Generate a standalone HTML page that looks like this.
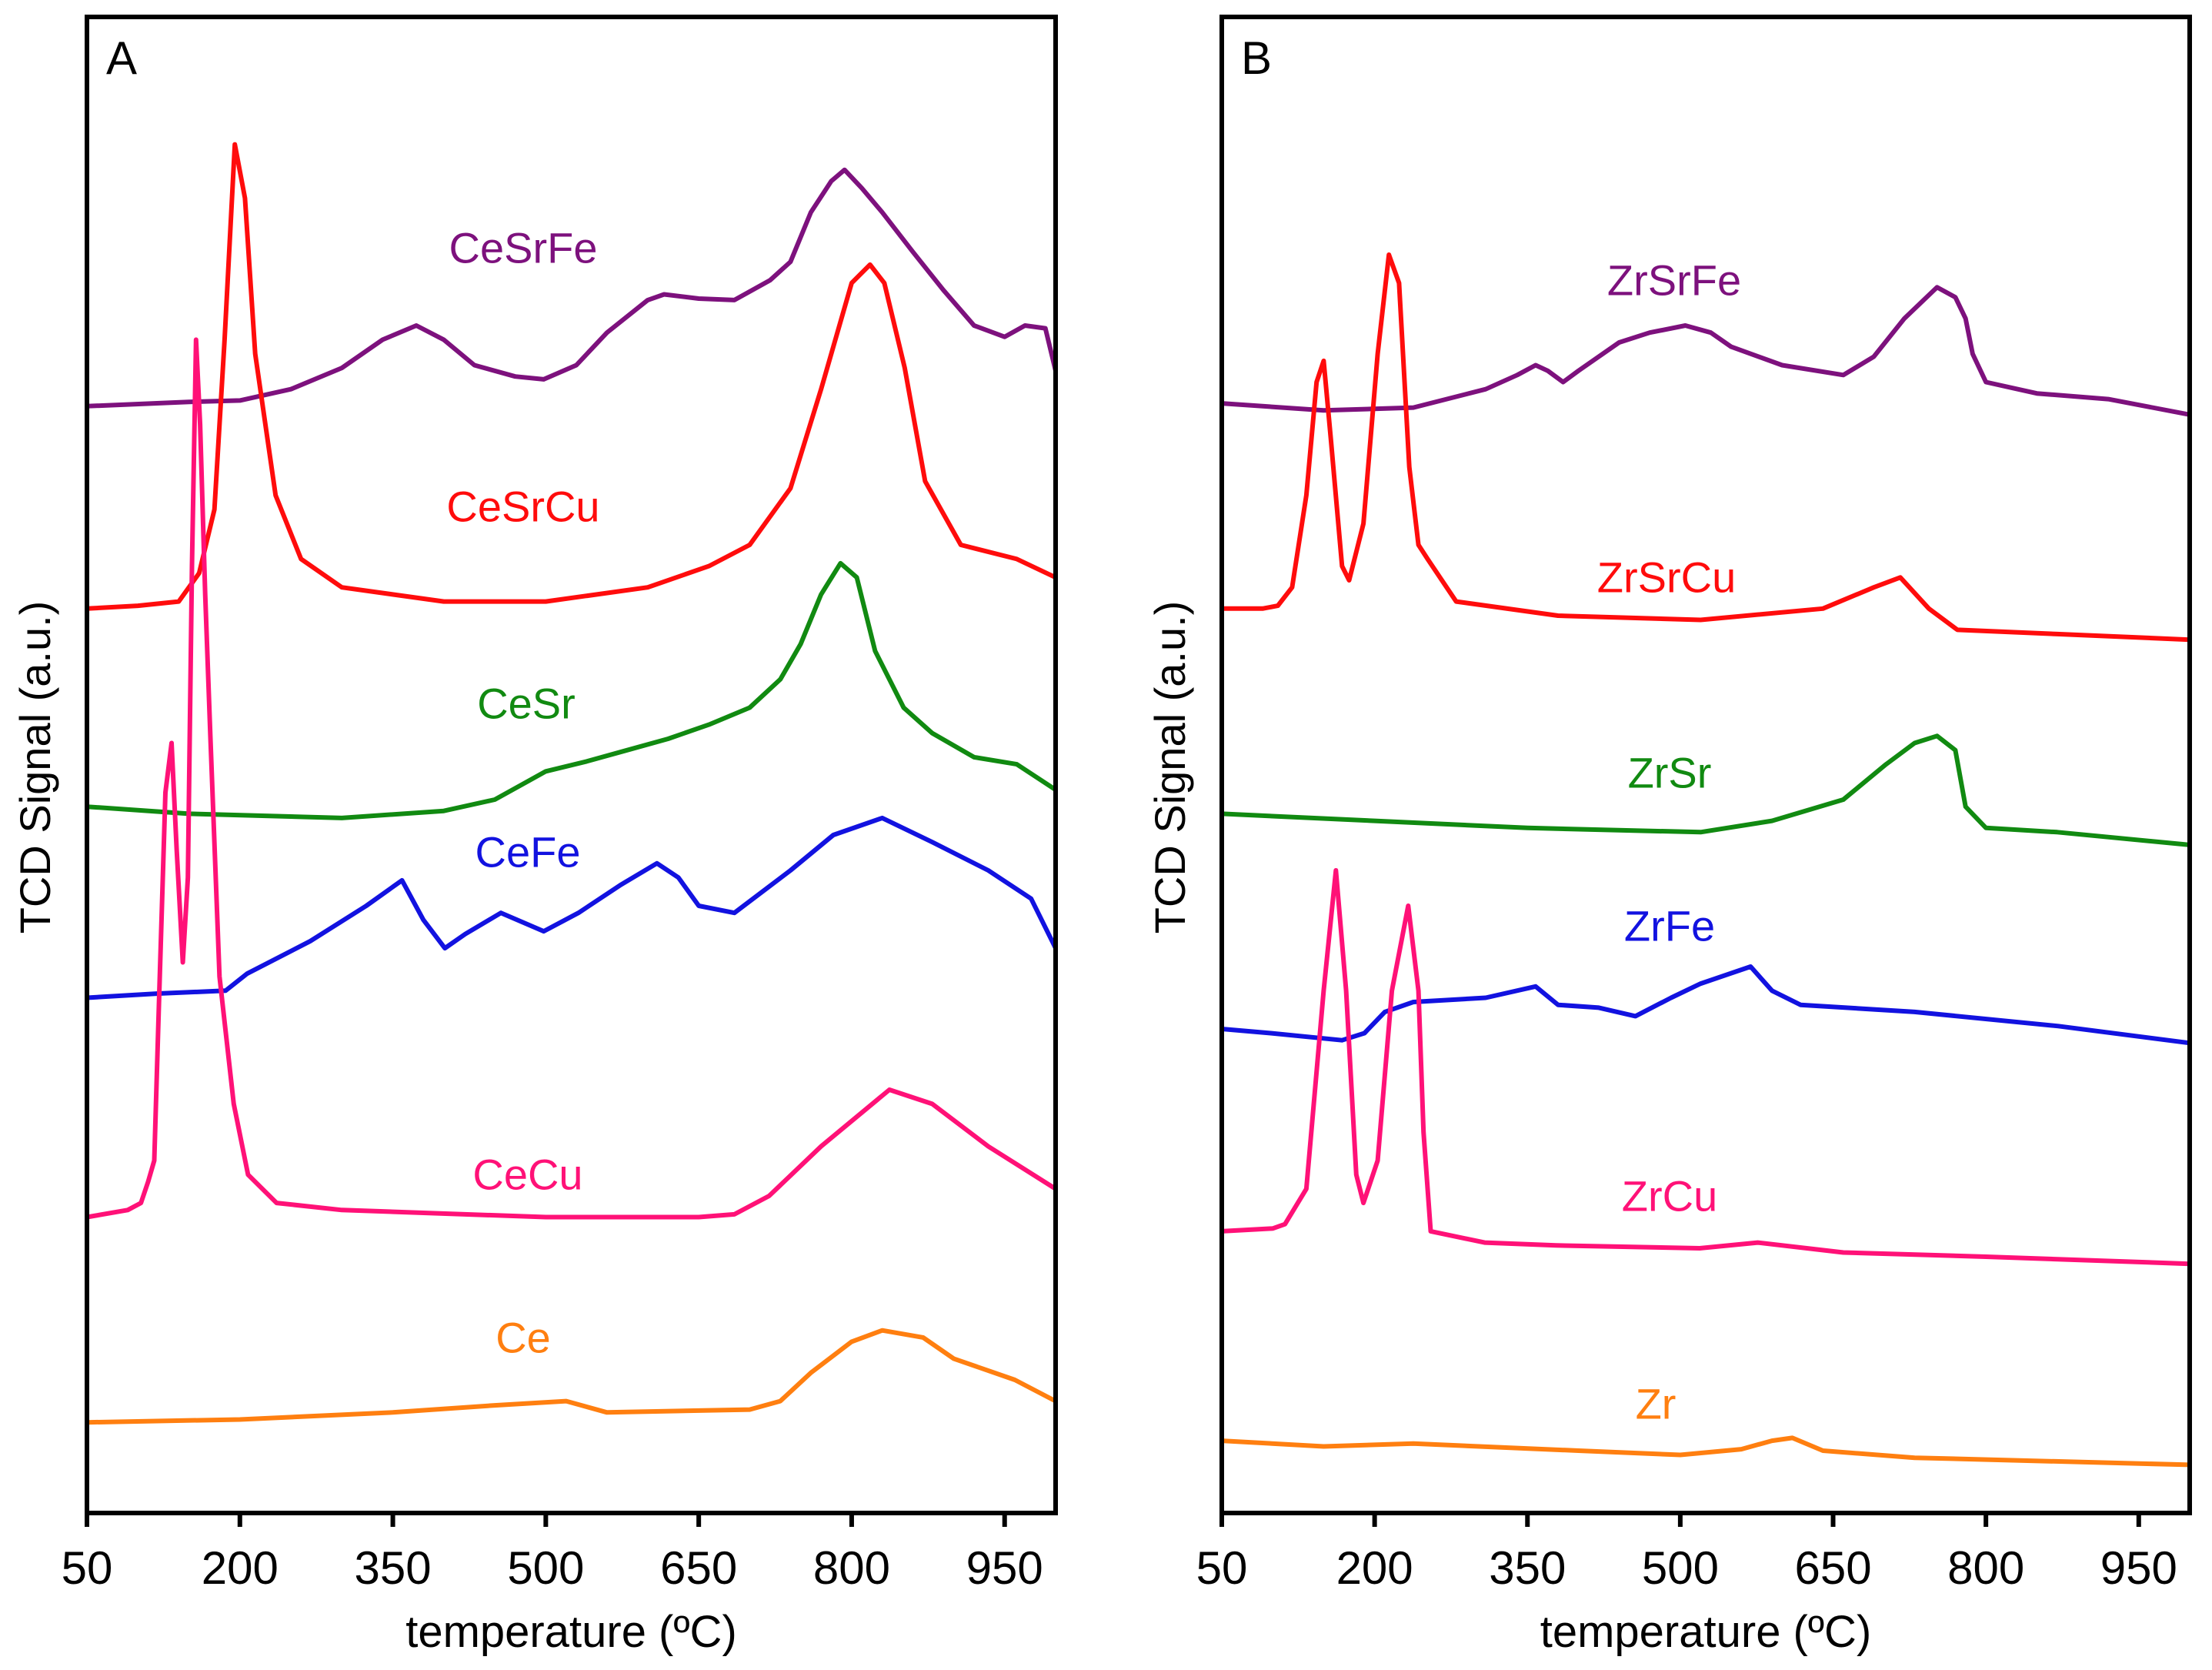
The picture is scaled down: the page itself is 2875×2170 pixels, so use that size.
<!DOCTYPE html>
<html><head><meta charset="utf-8"><style>
html,body{margin:0;padding:0;background:#fff;}
svg{display:block;font-family:"Liberation Sans",Arial,sans-serif;}
</style></head><body>
<svg id="chart" width="2875" height="2170" viewBox="0 0 2875 2170" xmlns="http://www.w3.org/2000/svg">
<g id="gA"></g>
<g id="gB"></g>
</svg>
<script>
// Data: [temperature (°C), signal (a.u., arbitrary offset units)]
const tickLabels = [50,200,350,500,650,800,950];
const seriesNamesA = ["CeSrFe","CeSrCu","CeSr","CeFe","CeCu","Ce"];
const seriesNamesB = ["ZrSrFe","ZrSrCu","ZrSr","ZrFe","ZrCu","Zr"];
const colors = ["#7d117d","#ff0c0c","#118a11","#1212e0","#ff1177","#ff7f10"];
const CeSrFe = [[50,287],[150,284],[200,283],[250,275],[300,260],[340,240],[373,230],[400,240],[430,258],[470,266],[498,268],[530,258],[560,235],[600,212],[616,208],[650,211],[685,212],[720,198],[740,185],[760,150],[780,128],[793,120],[810,133],[830,150],[860,178],[890,205],[920,230],[950,238],[970,230],[990,232],[1000,262]];
const CeSrCu = [[50,430],[100,428],[140,425],[160,405],[175,360],[185,240],[195,102],[205,140],[215,250],[235,350],[260,395],[300,415],[400,425],[500,425],[600,415],[660,400],[700,385],[740,345],[770,275],[800,200],[818,187],[832,200],[852,260],[872,340],[907,385],[962,395],[1000,408]];
const CeSr = [[50,570],[150,575],[300,578],[400,573],[450,565],[500,545],[540,538],[580,530],[620,522],[660,512],[700,500],[730,480],[750,455],[770,420],[789,398],[805,408],[823,460],[851,500],[879,518],[920,535],[962,540],[1000,558]];
const CeFe = [[50,705],[120,702],[186,700],[207,688],[269,665],[324,640],[359,622],[380,650],[401,670],[421,660],[456,645],[498,658],[532,645],[574,625],[609,610],[630,620],[650,640],[685,645],[740,615],[782,590],[830,578],[879,595],[934,615],[976,635],[1000,670]];
const CeCu = [[50,860],[90,855],[103,850],[110,835],[116,820],[121,700],[127,560],[133,525],[138,600],[144,680],[149,620],[153,400],[157,240],[161,300],[166,420],[171,520],[180,690],[194,780],[208,830],[236,850],[300,855],[500,860],[650,860],[685,858],[719,845],[770,810],[837,770],[879,780],[934,810],[1000,840]];
const Ce = [[50,1005],[200,1003],[350,998],[450,993],[520,990],[560,998],[700,996],[730,990],[760,970],[800,948],[830,940],[870,945],[900,960],[960,975],[1000,990]];
const ZrSrFe = [[50,285],[150,290],[238,288],[309,275],[340,265],[358,258],[370,262],[385,270],[400,262],[440,242],[470,235],[505,230],[530,235],[550,245],[600,258],[660,265],[690,252],[720,225],[752,203],[770,210],[780,225],[787,250],[800,270],[850,278],[920,282],[1000,293]];
const ZrSrCu = [[50,430],[90,430],[105,428],[119,415],[133,350],[143,270],[150,255],[157,310],[168,400],[175,410],[189,370],[203,250],[214,180],[224,200],[234,330],[243,385],[252,395],[280,425],[380,435],[520,438],[640,430],[690,415],[716,408],[744,430],[772,445],[870,448],[1000,452]];
const ZrSr = [[50,575],[200,580],[350,585],[520,588],[590,580],[660,565],[702,540],[730,525],[752,520],[770,530],[780,570],[800,585],[870,588],[1000,597]];
const ZrFe = [[50,727],[98,730],[168,735],[190,730],[210,715],[238,708],[309,705],[358,697],[380,710],[420,712],[456,718],[491,705],[520,695],[569,683],[590,700],[618,710],[730,715],[871,725],[1000,737]];
const ZrCu = [[50,870],[100,868],[112,865],[133,840],[150,700],[162,615],[172,700],[182,830],[189,850],[203,820],[217,700],[233,640],[243,700],[248,800],[255,870],[308,878],[378,880],[519,882],[576,878],[660,885],[800,888],[1000,893]];
const Zr = [[50,1018],[150,1022],[238,1020],[400,1025],[500,1028],[560,1024],[590,1018],[610,1016],[640,1025],[730,1030],[1000,1035]];

const NS="http://www.w3.org/2000/svg";
const TOP=22,BOT=1966;
function yScale(v){return v*1.839;}
function mk(tag,attrs,parent){const e=document.createElementNS(NS,tag);for(const k in attrs)e.setAttribute(k,attrs[k]);parent.appendChild(e);return e;}

function panel(g,L,R,letter,names,series,labelPos){
  const xs=t=>L+(t-50)/950*(R-L);
  series.forEach((s,i)=>{
    const p=mk('path',{d:s.map((q,j)=>(j?'L':'M')+xs(q[0]).toFixed(1)+','+yScale(q[1]).toFixed(1)).join(''),fill:'none',stroke:colors[i],'stroke-width':6,'stroke-linejoin':'round','stroke-linecap':'round'},g);
    
    
    const t=mk('text',{x:labelPos[i][0],y:labelPos[i][1],'text-anchor':'middle','font-size':56,fill:colors[i],'dominant-baseline':'central'},g);
    t.textContent=names[i];
    
    
  });
  const f=mk('path',{d:`M${L},${BOT}V${TOP}H${R}V${BOT}Z`,fill:'none',stroke:'#000','stroke-width':6},g);
  
  
  tickLabels.forEach(v=>{
    const x=xs(v);
    const tk=mk('line',{x1:x,x2:x,y1:BOT,y2:BOT+18,stroke:'#000','stroke-width':6},g);
    
    
    const tl=mk('text',{x:x,y:2058,'text-anchor':'middle','font-size':60},g);
    tl.textContent=v;
    
    
  });
  const xt=mk('text',{x:(L+R)/2,y:2140,'text-anchor':'middle','font-size':58},g);
  xt.textContent='temperature (ºC)';
  
  
  const yt=mk('text',{x:0,y:0,'text-anchor':'middle','font-size':56,transform:`translate(${L-48},997) rotate(-90)`},g);
  yt.textContent='TCD Signal (a.u.)';
  
  
  const pl=mk('text',{x:L+25,y:96,'font-size':60},g);
  pl.textContent=letter;
  
  
}
panel(document.getElementById('gA'),113,1372,'A',seriesNamesA,[CeSrFe,CeSrCu,CeSr,CeFe,CeCu,Ce],
  [[680,322],[680,658],[684,914],[686,1107],[686,1526],[680,1738]]);
panel(document.getElementById('gB'),1588,2846,'B',seriesNamesB,[ZrSrFe,ZrSrCu,ZrSr,ZrFe,ZrCu,Zr],
  [[2176,364],[2166,750],[2170,1004],[2170,1203],[2170,1554],[2152,1824]]);
</script>
</body></html>
